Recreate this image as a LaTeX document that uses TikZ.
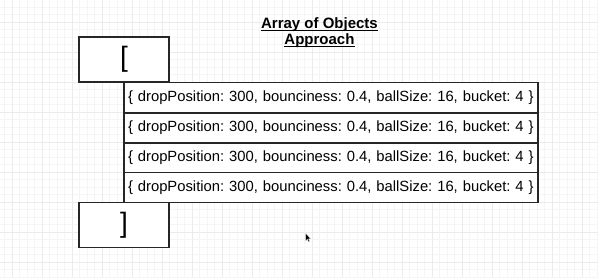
\documentclass[tikz,border=0pt]{standalone}
\usepackage{fontspec}
\setmainfont{Liberation Sans}
\frenchspacing
\begin{document}
\begin{tikzpicture}[x=1pt,y=-1pt,
  box/.style={draw=black!85,line width=1.2pt,fill=white,inner sep=0pt},
  bracketbox/.style={box,minimum width=90pt,minimum height=45pt,
    font=\fontsize{28}{28}\selectfont},
  objrow/.style={box,text width=406pt,inner xsep=4pt,minimum height=30pt,
    align=left,font=\fontsize{14.8}{14.8}\selectfont},
  title/.style={inner sep=0pt,anchor=base,font=\bfseries\fontsize{15}{16}\selectfont},
  titlerule/.style={black,line width=1.1pt}]
  % canvas and background grid
  \fill[white] (0,0) rectangle (598,277);
  \useasboundingbox (0,0) rectangle (598,277);
  \begin{scope}
    \clip (0,0) rectangle (598,277);
    \foreach \i in {0,...,80} {
      \draw[black!4,line width=0.5pt] ({4.5+7.5*\i},0) -- ({4.5+7.5*\i},277);
    }
    \foreach \i in {0,...,37} {
      \draw[black!4,line width=0.5pt] (0,{7+7.5*\i}) -- (598,{7+7.5*\i});
    }
    \foreach \i in {0,...,20} {
      \draw[black!8,line width=0.7pt] ({12+30*\i},0) -- ({12+30*\i},277);
    }
    \foreach \i in {0,...,9} {
      \draw[black!8,line width=0.7pt] (0,{22+30*\i}) -- (598,{22+30*\i});
    }
  \end{scope}
  % title, underlined just below the baseline
  \node[title] (title1) at (319.5,28.7) {Array of Objects};
  \node[title] (title2) at (319.5,44.7) {Approach};
  \draw[titlerule] ([yshift=-1.5pt]title1.base west) -- ([yshift=-1.5pt]title1.base east);
  \draw[titlerule] ([yshift=-1.5pt]title2.base west) -- ([yshift=-1.5pt]title2.base east);
  % array brackets
  \node[bracketbox] (open) at (124,59.5) {[};
  % object rows
  \node[objrow] (r1) at (331,97.5) {\{ dropPosition: 300, bounciness: 0.4, ballSize: 16, bucket: 4 \}};
  \node[objrow] (r2) at (331,128) {\{ dropPosition: 300, bounciness: 0.4, ballSize: 16, bucket: 4 \}};
  \node[objrow] (r3) at (331,158) {\{ dropPosition: 300, bounciness: 0.4, ballSize: 16, bucket: 4 \}};
  \node[objrow] (r4) at (331,187.5) {\{ dropPosition: 300, bounciness: 0.4, ballSize: 16, bucket: 4 \}};
  \node[bracketbox] (close) at (124,225) {]};
  % mouse pointer
  \fill[black,draw=white,line width=0.3pt] (305.5,233) -- (305.5,241) -- (307.3,239.3)
    -- (308.6,242) -- (309.8,241.4) -- (308.5,238.8) -- (310.8,238.8) -- cycle;
\end{tikzpicture}
\end{document}
